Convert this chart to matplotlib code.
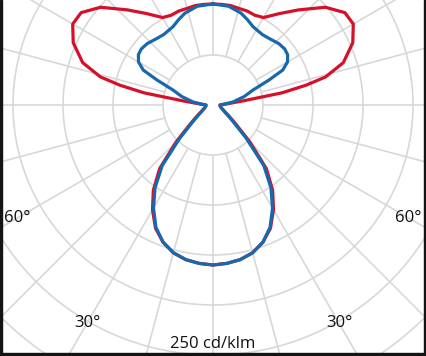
import numpy as np
import matplotlib
matplotlib.use("Agg")
import matplotlib.pyplot as plt
from matplotlib.patches import Rectangle

# Lower hemisphere (gamma 0..90, 0 = nadir), cd/klm
gamma_low = [0, 5, 10, 15, 20, 25, 30, 35, 40, 45, 50, 55, 60, 65, 70, 75, 80, 85, 90]
blue_low = [160, 159, 157, 153, 146, 135, 119, 101, 79, 47, 27, 18, 13, 11, 9, 8, 7.5, 7, 7]
red_low = [160, 159, 157, 153, 146, 136, 121, 104, 83, 52, 30, 20, 14, 11, 9, 8, 7.5, 7, 7]

# Upper hemisphere (gamma 90..180)
gamma_up_blue = [90, 95, 98.5, 105, 110.6, 114, 116.6, 120, 124, 128, 133, 140, 145, 150, 153, 158, 163, 171, 180]
blue_up = [7, 12, 20, 32, 43, 61, 78, 86, 90, 91, 90, 87, 86, 87, 88, 92, 96, 100, 101]
gamma_up_red = [90, 95, 98, 100, 102, 104, 108, 114, 120, 125, 131, 138, 144, 150, 155, 160, 165, 170, 175, 180]
red_up = [7, 15, 32, 70, 95, 116, 137, 153, 162, 161, 149, 128, 113, 101, 99, 100, 100, 101, 101, 101]

ring_values = [50, 100, 150, 200, 250, 300, 350]
spoke_step = 15
angle_labels = ["60°", "60°", "30°", "30°"]
scale_label = "250 cd/klm"

RED = "#d51129"
BLUE = "#1868ad"
GRID = "#d8d8d8"

W, H = 427, 356
fig = plt.figure(figsize=(W / 100, H / 100), dpi=100)
ax = fig.add_axes([0, 0, 1, 1])
cx, cy = 213, 105
ax.set_xlim(-cx, W - cx)
ax.set_ylim(-(H - cy), cy)
ax.axis("off")

# grid
t = np.linspace(0, 2 * np.pi, 720)
for r in ring_values:
    ax.plot(r * np.cos(t), r * np.sin(t), color=GRID, lw=1.2, zorder=1)
for a in range(0, 360, spoke_step):
    ar = np.deg2rad(a)
    ax.plot([50 * np.cos(ar), 450 * np.cos(ar)], [50 * np.sin(ar), 450 * np.sin(ar)],
            color=GRID, lw=1.2, zorder=1)


def closed_curve(g_low, v_low, g_up, v_up):
    g = np.concatenate([np.array(g_low, float), np.array(g_up[1:], float)])
    v = np.concatenate([np.array(v_low, float), np.array(v_up[1:], float)])
    gr = np.deg2rad(g)
    xr = v * np.sin(gr)
    y = -v * np.cos(gr)
    xs = np.concatenate([-xr[::-1], xr[1:]])
    ys = np.concatenate([y[::-1], y[1:]])
    return xs, ys


xs, ys = closed_curve(gamma_low, red_low, gamma_up_red, red_up)
ax.plot(xs, ys, color=RED, lw=2.3, zorder=3, solid_joinstyle="round")
xs, ys = closed_curve(gamma_low, blue_low, gamma_up_blue, blue_up)
ax.plot(xs, ys, color=BLUE, lw=2.3, zorder=4, solid_joinstyle="round")

font = dict(family=["Open Sans", "DejaVu Sans"], fontsize=12, color="#111111")
for lab, (g, r, side) in zip(angle_labels, [(60, 226, -1), (60, 226, 1), (30, 252, -1), (30, 252, 1)]):
    gr = np.deg2rad(g)
    ax.text(side * r * np.sin(gr), -r * np.cos(gr), lab, ha="center", va="center", zorder=5, **font)
ax.text(0, -239, scale_label, ha="center", va="center", zorder=5, **font)

# dark frame edges
for (x0, y0, w, h) in [(0, 0, 2 / W, 1), (1 - 3 / W, 0, 3 / W, 1), (0, 0, 1, 3 / H)]:
    fig.patches.append(Rectangle((x0, y0), w, h, transform=fig.transFigure,
                                 color="#141414", zorder=10))

fig.savefig("out.png", dpi=100)
